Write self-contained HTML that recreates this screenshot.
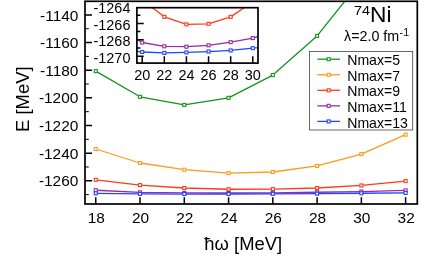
<!DOCTYPE html>
<html><head><meta charset="utf-8"><title>74Ni</title>
<style>
html,body{margin:0;padding:0;background:#fff;}
body{width:424px;height:261px;overflow:hidden;}
svg{display:block;will-change:transform;}
text{font-family:"Liberation Sans",sans-serif;fill:#000;}
</style></head><body>
<svg width="424" height="261" viewBox="0 0 424 261">
<rect width="424" height="261" fill="#fff"/>
<defs>
<clipPath id="cm"><rect x="85.0" y="1.3" width="332.3" height="202.7"/></clipPath>
<clipPath id="ci"><rect x="136.9" y="7.7" width="121.1" height="55.4"/></clipPath>
</defs>
<g clip-path="url(#cm)">
<polyline points="95.75,71.10 140.02,96.80 184.29,104.90 228.56,97.80 272.83,75.10 317.10,35.90 361.37,-19.50" fill="none" stroke="#12951a" stroke-width="1.3" stroke-linejoin="round"/>
<rect x="94.25" y="69.60" width="3.0" height="3.0" fill="#fff" stroke="#12951a" stroke-width="1.1"/>
<rect x="138.52" y="95.30" width="3.0" height="3.0" fill="#fff" stroke="#12951a" stroke-width="1.1"/>
<rect x="182.79" y="103.40" width="3.0" height="3.0" fill="#fff" stroke="#12951a" stroke-width="1.1"/>
<rect x="227.06" y="96.30" width="3.0" height="3.0" fill="#fff" stroke="#12951a" stroke-width="1.1"/>
<rect x="271.33" y="73.60" width="3.0" height="3.0" fill="#fff" stroke="#12951a" stroke-width="1.1"/>
<rect x="315.60" y="34.40" width="3.0" height="3.0" fill="#fff" stroke="#12951a" stroke-width="1.1"/>
<rect x="359.87" y="-21.00" width="3.0" height="3.0" fill="#fff" stroke="#12951a" stroke-width="1.1"/>
<polyline points="95.75,149.00 140.02,163.00 184.29,169.70 228.56,173.20 272.83,172.00 317.10,165.90 361.37,154.10 405.64,134.70" fill="none" stroke="#ff9a1a" stroke-width="1.3" stroke-linejoin="round"/>
<rect x="94.25" y="147.50" width="3.0" height="3.0" fill="#fff" stroke="#ff9a1a" stroke-width="1.1"/>
<rect x="138.52" y="161.50" width="3.0" height="3.0" fill="#fff" stroke="#ff9a1a" stroke-width="1.1"/>
<rect x="182.79" y="168.20" width="3.0" height="3.0" fill="#fff" stroke="#ff9a1a" stroke-width="1.1"/>
<rect x="227.06" y="171.70" width="3.0" height="3.0" fill="#fff" stroke="#ff9a1a" stroke-width="1.1"/>
<rect x="271.33" y="170.50" width="3.0" height="3.0" fill="#fff" stroke="#ff9a1a" stroke-width="1.1"/>
<rect x="315.60" y="164.40" width="3.0" height="3.0" fill="#fff" stroke="#ff9a1a" stroke-width="1.1"/>
<rect x="359.87" y="152.60" width="3.0" height="3.0" fill="#fff" stroke="#ff9a1a" stroke-width="1.1"/>
<rect x="404.14" y="133.20" width="3.0" height="3.0" fill="#fff" stroke="#ff9a1a" stroke-width="1.1"/>
<polyline points="95.75,179.80 140.02,185.13 184.29,187.99 228.56,189.26 272.83,189.16 317.10,187.99 361.37,185.46 405.64,181.10" fill="none" stroke="#ff3a18" stroke-width="1.3" stroke-linejoin="round"/>
<rect x="94.25" y="178.30" width="3.0" height="3.0" fill="#fff" stroke="#ff3a18" stroke-width="1.1"/>
<rect x="138.52" y="183.63" width="3.0" height="3.0" fill="#fff" stroke="#ff3a18" stroke-width="1.1"/>
<rect x="182.79" y="186.49" width="3.0" height="3.0" fill="#fff" stroke="#ff3a18" stroke-width="1.1"/>
<rect x="227.06" y="187.76" width="3.0" height="3.0" fill="#fff" stroke="#ff3a18" stroke-width="1.1"/>
<rect x="271.33" y="187.66" width="3.0" height="3.0" fill="#fff" stroke="#ff3a18" stroke-width="1.1"/>
<rect x="315.60" y="186.49" width="3.0" height="3.0" fill="#fff" stroke="#ff3a18" stroke-width="1.1"/>
<rect x="359.87" y="183.96" width="3.0" height="3.0" fill="#fff" stroke="#ff3a18" stroke-width="1.1"/>
<rect x="404.14" y="179.60" width="3.0" height="3.0" fill="#fff" stroke="#ff3a18" stroke-width="1.1"/>
<polyline points="95.75,190.24 140.02,192.32 184.29,192.95 228.56,193.02 272.83,192.79 317.10,192.26 361.37,191.57 405.64,190.41" fill="none" stroke="#9a2aa6" stroke-width="1.3" stroke-linejoin="round"/>
<rect x="94.25" y="188.74" width="3.0" height="3.0" fill="#fff" stroke="#9a2aa6" stroke-width="1.1"/>
<rect x="138.52" y="190.82" width="3.0" height="3.0" fill="#fff" stroke="#9a2aa6" stroke-width="1.1"/>
<rect x="182.79" y="191.45" width="3.0" height="3.0" fill="#fff" stroke="#9a2aa6" stroke-width="1.1"/>
<rect x="227.06" y="191.52" width="3.0" height="3.0" fill="#fff" stroke="#9a2aa6" stroke-width="1.1"/>
<rect x="271.33" y="191.29" width="3.0" height="3.0" fill="#fff" stroke="#9a2aa6" stroke-width="1.1"/>
<rect x="315.60" y="190.76" width="3.0" height="3.0" fill="#fff" stroke="#9a2aa6" stroke-width="1.1"/>
<rect x="359.87" y="190.07" width="3.0" height="3.0" fill="#fff" stroke="#9a2aa6" stroke-width="1.1"/>
<rect x="404.14" y="188.91" width="3.0" height="3.0" fill="#fff" stroke="#9a2aa6" stroke-width="1.1"/>
<polyline points="95.75,193.31 140.02,193.92 184.29,194.07 228.56,193.99 272.83,193.84 317.10,193.66 361.37,193.27 405.64,192.90" fill="none" stroke="#2244ff" stroke-width="1.3" stroke-linejoin="round"/>
<rect x="94.25" y="191.81" width="3.0" height="3.0" fill="#fff" stroke="#2244ff" stroke-width="1.1"/>
<rect x="138.52" y="192.42" width="3.0" height="3.0" fill="#fff" stroke="#2244ff" stroke-width="1.1"/>
<rect x="182.79" y="192.57" width="3.0" height="3.0" fill="#fff" stroke="#2244ff" stroke-width="1.1"/>
<rect x="227.06" y="192.49" width="3.0" height="3.0" fill="#fff" stroke="#2244ff" stroke-width="1.1"/>
<rect x="271.33" y="192.34" width="3.0" height="3.0" fill="#fff" stroke="#2244ff" stroke-width="1.1"/>
<rect x="315.60" y="192.16" width="3.0" height="3.0" fill="#fff" stroke="#2244ff" stroke-width="1.1"/>
<rect x="359.87" y="191.77" width="3.0" height="3.0" fill="#fff" stroke="#2244ff" stroke-width="1.1"/>
<rect x="404.14" y="191.40" width="3.0" height="3.0" fill="#fff" stroke="#2244ff" stroke-width="1.1"/>
</g>
<rect x="136.9" y="7.7" width="121.1" height="55.4" fill="#fff"/>
<g clip-path="url(#ci)">
<polyline points="120.08,-31.73 142.20,-0.13 164.32,16.84 186.44,24.38 208.56,23.81 230.68,16.84 252.80,1.83 274.92,-24.02" fill="none" stroke="#ff3a18" stroke-width="1.3" stroke-linejoin="round"/>
<rect x="118.58" y="-33.23" width="3.0" height="3.0" fill="#fff" stroke="#ff3a18" stroke-width="1.1"/>
<rect x="140.70" y="-1.63" width="3.0" height="3.0" fill="#fff" stroke="#ff3a18" stroke-width="1.1"/>
<rect x="162.82" y="15.34" width="3.0" height="3.0" fill="#fff" stroke="#ff3a18" stroke-width="1.1"/>
<rect x="184.94" y="22.88" width="3.0" height="3.0" fill="#fff" stroke="#ff3a18" stroke-width="1.1"/>
<rect x="207.06" y="22.31" width="3.0" height="3.0" fill="#fff" stroke="#ff3a18" stroke-width="1.1"/>
<rect x="229.18" y="15.34" width="3.0" height="3.0" fill="#fff" stroke="#ff3a18" stroke-width="1.1"/>
<rect x="251.30" y="0.33" width="3.0" height="3.0" fill="#fff" stroke="#ff3a18" stroke-width="1.1"/>
<rect x="273.42" y="-25.52" width="3.0" height="3.0" fill="#fff" stroke="#ff3a18" stroke-width="1.1"/>
<polyline points="120.08,30.21 142.20,42.51 164.32,46.28 186.44,46.69 208.56,45.29 230.68,42.18 252.80,38.08 274.92,31.19" fill="none" stroke="#9a2aa6" stroke-width="1.3" stroke-linejoin="round"/>
<rect x="118.58" y="28.71" width="3.0" height="3.0" fill="#fff" stroke="#9a2aa6" stroke-width="1.1"/>
<rect x="140.70" y="41.01" width="3.0" height="3.0" fill="#fff" stroke="#9a2aa6" stroke-width="1.1"/>
<rect x="162.82" y="44.78" width="3.0" height="3.0" fill="#fff" stroke="#9a2aa6" stroke-width="1.1"/>
<rect x="184.94" y="45.19" width="3.0" height="3.0" fill="#fff" stroke="#9a2aa6" stroke-width="1.1"/>
<rect x="207.06" y="43.79" width="3.0" height="3.0" fill="#fff" stroke="#9a2aa6" stroke-width="1.1"/>
<rect x="229.18" y="40.68" width="3.0" height="3.0" fill="#fff" stroke="#9a2aa6" stroke-width="1.1"/>
<rect x="251.30" y="36.58" width="3.0" height="3.0" fill="#fff" stroke="#9a2aa6" stroke-width="1.1"/>
<rect x="273.42" y="29.69" width="3.0" height="3.0" fill="#fff" stroke="#9a2aa6" stroke-width="1.1"/>
<polyline points="120.08,48.41 142.20,52.02 164.32,52.92 186.44,52.43 208.56,51.53 230.68,50.46 252.80,48.16 274.92,45.95" fill="none" stroke="#2244ff" stroke-width="1.3" stroke-linejoin="round"/>
<rect x="118.58" y="46.91" width="3.0" height="3.0" fill="#fff" stroke="#2244ff" stroke-width="1.1"/>
<rect x="140.70" y="50.52" width="3.0" height="3.0" fill="#fff" stroke="#2244ff" stroke-width="1.1"/>
<rect x="162.82" y="51.42" width="3.0" height="3.0" fill="#fff" stroke="#2244ff" stroke-width="1.1"/>
<rect x="184.94" y="50.93" width="3.0" height="3.0" fill="#fff" stroke="#2244ff" stroke-width="1.1"/>
<rect x="207.06" y="50.03" width="3.0" height="3.0" fill="#fff" stroke="#2244ff" stroke-width="1.1"/>
<rect x="229.18" y="48.96" width="3.0" height="3.0" fill="#fff" stroke="#2244ff" stroke-width="1.1"/>
<rect x="251.30" y="46.66" width="3.0" height="3.0" fill="#fff" stroke="#2244ff" stroke-width="1.1"/>
<rect x="273.42" y="44.45" width="3.0" height="3.0" fill="#fff" stroke="#2244ff" stroke-width="1.1"/>
</g>
<path d="M85.0 180.80h7.0 M85.0 153.15h7.0 M85.0 125.50h7.0 M85.0 97.85h7.0 M85.0 70.20h7.0 M85.0 42.55h7.0 M85.0 14.90h7.0 M95.75 204.0v-6.7 M140.02 204.0v-6.7 M184.29 204.0v-6.7 M228.56 204.0v-6.7 M272.83 204.0v-6.7 M317.10 204.0v-6.7 M361.37 204.0v-6.7 M405.64 204.0v-6.7" stroke="#000" stroke-width="1.5" fill="none"/>
<path d="M85.0 194.62h3.8 M85.0 166.98h3.8 M85.0 139.33h3.8 M85.0 111.68h3.8 M85.0 84.03h3.8 M85.0 56.38h3.8 M85.0 28.73h3.8" stroke="#000" stroke-width="1.0" fill="none"/>
<path d="M136.9 56.20h6.8 M136.9 48.00h3.5 M136.9 39.80h6.8 M136.9 31.60h3.5 M136.9 23.40h6.8 M136.9 15.20h3.5 M142.20 63.1v-6.8 M164.32 63.1v-6.8 M186.44 63.1v-6.8 M208.56 63.1v-6.8 M230.68 63.1v-6.8 M252.80 63.1v-6.8" stroke="#000" stroke-width="1.5" fill="none"/>
<rect x="85.0" y="1.3" width="332.3" height="202.7" fill="none" stroke="#000" stroke-width="1.7"/>
<rect x="136.9" y="7.7" width="121.1" height="55.4" fill="none" stroke="#000" stroke-width="1.7"/>
<text transform="translate(78.40 186.40) scale(1.03 1)" font-size="15.0" text-anchor="end">-1260</text>
<text transform="translate(78.40 158.75) scale(1.03 1)" font-size="15.0" text-anchor="end">-1240</text>
<text transform="translate(78.40 131.10) scale(1.03 1)" font-size="15.0" text-anchor="end">-1220</text>
<text transform="translate(78.40 103.45) scale(1.03 1)" font-size="15.0" text-anchor="end">-1200</text>
<text transform="translate(78.40 75.80) scale(1.03 1)" font-size="15.0" text-anchor="end">-1180</text>
<text transform="translate(78.40 48.15) scale(1.03 1)" font-size="15.0" text-anchor="end">-1160</text>
<text transform="translate(78.40 20.50) scale(1.03 1)" font-size="15.0" text-anchor="end">-1140</text>
<text transform="translate(96.25 223.00) scale(1.03 1)" font-size="15.0" text-anchor="middle">18</text>
<text transform="translate(140.52 223.00) scale(1.03 1)" font-size="15.0" text-anchor="middle">20</text>
<text transform="translate(184.79 223.00) scale(1.03 1)" font-size="15.0" text-anchor="middle">22</text>
<text transform="translate(229.06 223.00) scale(1.03 1)" font-size="15.0" text-anchor="middle">24</text>
<text transform="translate(273.33 223.00) scale(1.03 1)" font-size="15.0" text-anchor="middle">26</text>
<text transform="translate(317.60 223.00) scale(1.03 1)" font-size="15.0" text-anchor="middle">28</text>
<text transform="translate(361.87 223.00) scale(1.03 1)" font-size="15.0" text-anchor="middle">30</text>
<text transform="translate(406.14 223.00) scale(1.03 1)" font-size="15.0" text-anchor="middle">32</text>
<text transform="translate(130.40 62.65) scale(1.03 1)" font-size="14.0" text-anchor="end">-1270</text>
<text transform="translate(130.40 46.25) scale(1.03 1)" font-size="14.0" text-anchor="end">-1268</text>
<text transform="translate(130.40 29.85) scale(1.03 1)" font-size="14.0" text-anchor="end">-1266</text>
<text transform="translate(130.40 13.45) scale(1.03 1)" font-size="14.0" text-anchor="end">-1264</text>
<text transform="translate(142.20 80.40) scale(1.03 1)" font-size="14.0" text-anchor="middle">20</text>
<text transform="translate(164.32 80.40) scale(1.03 1)" font-size="14.0" text-anchor="middle">22</text>
<text transform="translate(186.44 80.40) scale(1.03 1)" font-size="14.0" text-anchor="middle">24</text>
<text transform="translate(208.56 80.40) scale(1.03 1)" font-size="14.0" text-anchor="middle">26</text>
<text transform="translate(230.68 80.40) scale(1.03 1)" font-size="14.0" text-anchor="middle">28</text>
<text transform="translate(252.80 80.40) scale(1.03 1)" font-size="14.0" text-anchor="middle">30</text>
<text transform="translate(243.20 249.80) scale(0.99 1)" font-size="18.6" text-anchor="middle">ħω [MeV]</text>
<text transform="translate(28.7 99.2) rotate(-90)" font-size="18.4" text-anchor="middle">E [MeV]</text>
<text transform="translate(370.00 22.00) scale(1.045 1)" font-size="21.8" text-anchor="start">Ni</text>
<text transform="translate(370.00 15.30) scale(1.07 1)" font-size="13.4" text-anchor="end">74</text>
<text transform="translate(344.00 41.20) scale(1.015 1)" font-size="14.1" text-anchor="start">λ=2.0 fm</text>
<text transform="translate(399.60 36.20) scale(1.0 1)" font-size="10.7" text-anchor="start">-1</text>
<rect x="309.5" y="51.4" width="103.2" height="78.6" fill="#fff" stroke="#444" stroke-width="0.8"/>
<path d="M317.4 59.20H340" stroke="#12951a" stroke-width="1.3"/>
<rect x="327.20" y="57.70" width="3.0" height="3.0" fill="#fff" stroke="#12951a" stroke-width="1.1"/>
<text transform="translate(347.20 65.35) scale(1.0 1)" font-size="14.1" text-anchor="start">Nmax=5</text>
<path d="M317.4 74.75H340" stroke="#ff9a1a" stroke-width="1.3"/>
<rect x="327.20" y="73.25" width="3.0" height="3.0" fill="#fff" stroke="#ff9a1a" stroke-width="1.1"/>
<text transform="translate(347.20 80.90) scale(1.0 1)" font-size="14.1" text-anchor="start">Nmax=7</text>
<path d="M317.4 90.30H340" stroke="#ff3a18" stroke-width="1.3"/>
<rect x="327.20" y="88.80" width="3.0" height="3.0" fill="#fff" stroke="#ff3a18" stroke-width="1.1"/>
<text transform="translate(347.20 96.45) scale(1.0 1)" font-size="14.1" text-anchor="start">Nmax=9</text>
<path d="M317.4 105.85H340" stroke="#9a2aa6" stroke-width="1.3"/>
<rect x="327.20" y="104.35" width="3.0" height="3.0" fill="#fff" stroke="#9a2aa6" stroke-width="1.1"/>
<text transform="translate(347.20 112.00) scale(1.0 1)" font-size="14.1" text-anchor="start">Nmax=11</text>
<path d="M317.4 121.40H340" stroke="#2244ff" stroke-width="1.3"/>
<rect x="327.20" y="119.90" width="3.0" height="3.0" fill="#fff" stroke="#2244ff" stroke-width="1.1"/>
<text transform="translate(347.20 127.55) scale(1.0 1)" font-size="14.1" text-anchor="start">Nmax=13</text>
</svg>
</body></html>
